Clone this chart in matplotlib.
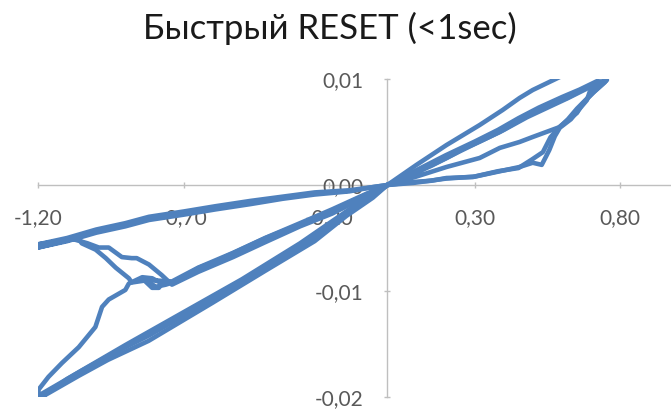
import matplotlib
matplotlib.use('Agg')
import matplotlib.pyplot as plt

plt.rcParams['font.family'] = ['Lato', 'DejaVu Sans']

# --- положительная ветвь (SET) ---
pos_a_v = [0, 0.086, 0.15, 0.203, 0.293, 0.375, 0.454, 0.499, 0.53, 0.545, 0.556, 0.575, 0.592,
           0.63, 0.651, 0.685, 0.695, 0.73, 0.754,
           0.73, 0.671, 0.616, 0.56, 0.499, 0.454, 0.386, 0.317, 0.26, 0.203, 0.1, 0]
pos_a_i = [0, 0.00028, 0.0004, 0.00066, 0.00075, 0.00123, 0.0017, 0.0021, 0.0019, 0.0027, 0.0033, 0.0046, 0.0054,
           0.0062, 0.0069, 0.0080, 0.0088, 0.0095, 0.0099,
           0.0097, 0.0090, 0.0082, 0.0076, 0.0068, 0.0061, 0.0050, 0.0041, 0.0034, 0.00255, 0.0012, 0]

pos_b_v = [0, 0.09, 0.2, 0.3, 0.38, 0.45, 0.496, 0.534, 0.56, 0.592, 0.651, 0.671, 0.706, 0.747,
           0.72, 0.66, 0.6, 0.52, 0.45, 0.38, 0.3, 0.2, 0.1, 0]
pos_b_i = [0, 0.0002, 0.0006, 0.0008, 0.0013, 0.0016, 0.0024, 0.0031, 0.0045, 0.0055, 0.0068, 0.0077, 0.0087, 0.0097,
           0.0098, 0.0090, 0.0083, 0.0073, 0.0063, 0.0052, 0.0041, 0.0028, 0.0014, 0]

pos_c_v = [0, 0.1, 0.203, 0.317, 0.386, 0.454, 0.499, 0.592, 0.62, 0.651, 0.68, 0.71, 0.75,
           0.7, 0.62, 0.55, 0.48, 0.4, 0.317, 0.25, 0.15, 0.05, 0]
pos_c_i = [0, 0.0008, 0.0017, 0.00255, 0.0035, 0.00406, 0.00453, 0.00547, 0.0062, 0.0072, 0.0080, 0.0088, 0.0098,
           0.0093, 0.0082, 0.0073, 0.0064, 0.0052, 0.0041, 0.0032, 0.0018, 0.0006, 0]

pos_d_v = [0, 0.1, 0.203, 0.317, 0.396, 0.454, 0.499, 0.592, 0.65]
pos_d_i = [0, 0.0019, 0.00377, 0.00566, 0.00708, 0.00821, 0.00896, 0.01019, 0.0110]

# --- отрицательная ветвь (RESET) ---
upper_ret_v = [-1.2, -1.1, -1.0, -0.9, -0.819, -0.7, -0.59, -0.47, -0.36, -0.25, -0.131, -0.05, 0]
upper_ret_i = [-0.0056, -0.0050, -0.0042, -0.0036, -0.0030, -0.0025, -0.0020, -0.0015, -0.0011, -0.0007,
               -0.0005, -0.0002, 0]
upper_ret2_i = [-0.0059, -0.0053, -0.0045, -0.0039, -0.0033, -0.0028, -0.0023, -0.0018, -0.0013, -0.0009,
                -0.0006, -0.0002, 0]

neg_a_v = [0, -0.073, -0.188, -0.245, -0.418, -0.59, -0.647, -0.727, -0.761, -0.795, -0.83, -0.878,
           -0.888, -0.933, -0.967, -1.002, -1.05, -1.06, -1.13, -1.2]
neg_a_i = [0, -0.0009, -0.0024, -0.0031, -0.0050, -0.0072, -0.0078, -0.0091, -0.0094, -0.0096, -0.0090, -0.0092,
           -0.0088, -0.0078, -0.0069, -0.0061, -0.0055, -0.0050, -0.0053, -0.0056]

neg_b_v = [0, -0.075, -0.19, -0.3, -0.42, -0.53, -0.65, -0.74, -0.775, -0.819, -0.861, -0.878, -0.912,
           -0.957, -0.991, -1.03, -1.08, -1.2]
neg_b_i = [0, -0.0011, -0.0027, -0.0039, -0.0054, -0.0068, -0.0082, -0.0094, -0.0085, -0.0075, -0.0069, -0.0069,
           -0.0068, -0.0059, -0.0059, -0.0055, -0.0051, -0.0059]

neg_c_v = [0, -0.039, -0.131, -0.245, -0.418, -0.59, -0.819, -0.95, -1.049, -1.2,
           -1.198, -1.164, -1.118, -1.06, -1.003, -0.98, -0.957, -0.9, -0.888,
           -0.842, -0.808, -0.774, -0.785, -0.808, -0.831, -0.8, -0.74,
           -0.65, -0.53, -0.42, -0.3, -0.19, -0.07, 0]
neg_c_i = [0, -0.0008, -0.0025, -0.0048, -0.0077, -0.0106, -0.0142, -0.0160, -0.0175, -0.0199,
           -0.0193, -0.0181, -0.0168, -0.0153, -0.0134, -0.0115, -0.0108, -0.0099, -0.0093,
           -0.0087, -0.0088, -0.0093, -0.0097, -0.0097, -0.0091, -0.0090, -0.0091,
           -0.0078, -0.0064, -0.0050, -0.0036, -0.0023, -0.0008, 0]

neg_d_v = [0, -0.05, -0.14, -0.25, -0.42, -0.6, -0.82, -0.96, -1.06, -1.2,
           -1.1, -0.9, -0.7, -0.5, -0.3, -0.12, 0]
neg_d_i = [0, -0.0012, -0.0029, -0.0053, -0.0081, -0.0111, -0.0147, -0.0165, -0.0180, -0.0202,
           -0.0183, -0.0151, -0.0120, -0.0089, -0.0055, -0.0021, 0]

xticks = [-1.2, -0.7, -0.2, 0.3, 0.8]
xtick_labels = ['-1,20', '-0,70', '-0,20', '0,30', '0,80']
yticks = [-0.02, -0.01, 0.0, 0.01]
ytick_labels = ['-0,02', '-0,01', '0,00', '0,01']

blue = '#4F81BD'
grey = '#BFBFBF'

fig = plt.figure(figsize=(6.71, 4.12), dpi=100)
ax = fig.add_axes([38 / 671, 15 / 412, 633 / 671, 318 / 412])

sweeps = [(pos_a_v, pos_a_i), (pos_b_v, pos_b_i), (pos_c_v, pos_c_i), (pos_d_v, pos_d_i),
          (neg_a_v + upper_ret_v, neg_a_i + upper_ret_i),
          (neg_b_v + upper_ret_v, neg_b_i + upper_ret2_i),
          (neg_c_v, neg_c_i), (neg_d_v, neg_d_i)]
for v, i in sweeps:
    ax.plot(v, i, color=blue, lw=3.3, solid_joinstyle='round', solid_capstyle='round', zorder=3)

ax.set_xlim(-1.2, 0.974)
ax.set_ylim(-0.02, 0.01)

for s in ['top', 'right']:
    ax.spines[s].set_visible(False)
ax.spines['left'].set_position(('data', 0))
ax.spines['bottom'].set_position(('data', 0))
for s in ['left', 'bottom']:
    ax.spines[s].set_color(grey)
    ax.spines[s].set_linewidth(1.0)
    ax.spines[s].set_zorder(1)

ax.set_xticks(xticks)
ax.set_xticklabels(xtick_labels)
ax.set_yticks(yticks)
ax.set_yticklabels(ytick_labels)
ax.tick_params(axis='both', direction='inout', length=5, width=1, color=grey,
               labelcolor='#595959', labelsize=15)
ax.tick_params(axis='x', pad=14)
ax.tick_params(axis='y', pad=15)

fig.text(0.492, 1 - 39 / 412, 'Быстрый RESET (<1sec)', ha='center', va='baseline',
         fontsize=25, color='#1a1a1a')

fig.savefig('out.png', dpi=100)
